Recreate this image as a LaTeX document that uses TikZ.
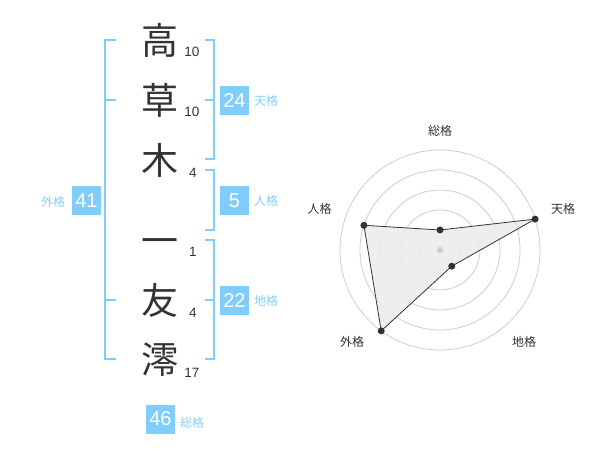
\documentclass[tikz,border=0pt]{standalone}
\usepackage{fontspec}
\setmainfont{Liberation Sans}
\newfontfamily\jp{Noto Sans CJK JP}
\definecolor{boxblue}{RGB}{128,204,250}
\definecolor{lblblue}{RGB}{135,206,248}
\definecolor{ink}{RGB}{51,51,51}
\definecolor{ring}{RGB}{204,204,204}
\definecolor{area}{RGB}{236,236,236}
\tikzset{
  kanji/.style={inner sep=0pt, text=ink, font=\jp\fontsize{37}{37}\selectfont, text height=32.56pt, text depth=4.44pt},
  strokes/.style={inner sep=0pt, text=ink, font=\fontsize{13.5}{14}\selectfont},
  scorebox/.style={fill=boxblue, text=white, minimum width=29pt, minimum height=29pt, inner sep=0pt, font=\fontsize{20}{20}\selectfont},
  kaku/.style={inner sep=0pt, text=lblblue, font=\jp\fontsize{12}{12}\selectfont},
  bracket/.style={draw=boxblue, line width=2pt},
  radarlbl/.style={inner sep=0pt, text=ink, font=\jp\fontsize{12}{12}\selectfont},
  dot/.style={circle, fill=ink, inner sep=0pt, minimum size=7pt},
}
\begin{document}
\begin{tikzpicture}[x=1pt,y=-1pt]
\useasboundingbox (0,0) rectangle (600,470);
% kanji
\node[kanji] (k1) at (160,40) {高};
\node[kanji] (k2) at (160,100) {草};
\node[kanji] (k3) at (160,160) {木};
\node[kanji] (k4) at (160,240) {一};
\node[kanji] (k5) at (160,300) {友};
\node[kanji] (k6) at (160,359) {澪};
% stroke counts
\node[strokes] (n1) at (192,52) {10};
\node[strokes] (n2) at (192,112) {10};
\node[strokes] (n3) at (193,173) {4};
\node[strokes] (n4) at (193,252) {1};
\node[strokes] (n5) at (193,313) {4};
\node[strokes] (n6) at (192,373) {17};
% brackets
\draw[bracket] (116,40) -- (105,40) -- (105,359) -- (116,359);
\draw[bracket] (105,100) -- (116,100);
\draw[bracket] (105,300) -- (116,300);
\draw[bracket] (205,40) -- (214,40) -- (214,159) -- (205,159);
\draw[bracket] (214,100) -- (205,100);
\draw[bracket] (205,170) -- (214,170) -- (214,230) -- (205,230);
\draw[bracket] (205,240) -- (214,240) -- (214,359) -- (205,359);
\draw[bracket] (214,300) -- (205,300);
% score boxes
\node[scorebox] (b1) at (234.5,100.5) {24};
\node[kaku] (l1) at (266,101) {天格};
\node[scorebox] (b2) at (234.5,200.5) {5};
\node[kaku] (l2) at (266,201) {人格};
\node[scorebox] (b3) at (234.5,300.5) {22};
\node[kaku] (l3) at (266,301) {地格};
\node[scorebox] (b4) at (86.5,200.5) {41};
\node[kaku] (l4) at (53,202) {外格};
\node[scorebox] (b5) at (160.5,419) {46};
\node[kaku] (l5) at (192,423) {総格};
% radar
\coordinate (c) at (440,250);
\foreach \r in {20,40,60,80,100} \draw[ring, line width=0.8pt] (c) circle (\r pt);
\begin{scope}[shift={(440,250)}]
\coordinate (p1) at (90:20pt);
\coordinate (p2) at (18:100pt);
\coordinate (p3) at (-54:20pt);
\coordinate (p4) at (-126:100pt);
\coordinate (p5) at (162:80pt);
\end{scope}
\fill[area, opacity=0.9] (p1) -- (p2) -- (p3) -- (p4) -- (p5) -- cycle;
\draw[ink, line width=0.8pt] (p1) -- (p2) -- (p3) -- (p4) -- (p5) -- cycle;
\node[circle, fill=ring, inner sep=0pt, minimum size=6pt] (cd) at (c) {};
\foreach \p in {p1,p2,p3,p4,p5} \node[dot] at (\p) {};
\node[radarlbl] (r1) at (440,130.5) {総格};
\node[radarlbl] (r2) at (563,208.5) {天格};
\node[radarlbl] (r3) at (319.5,208.5) {人格};
\node[radarlbl] (r4) at (352,341.5) {外格};
\node[radarlbl] (r5) at (524,341.5) {地格};
\end{tikzpicture}
\end{document}
